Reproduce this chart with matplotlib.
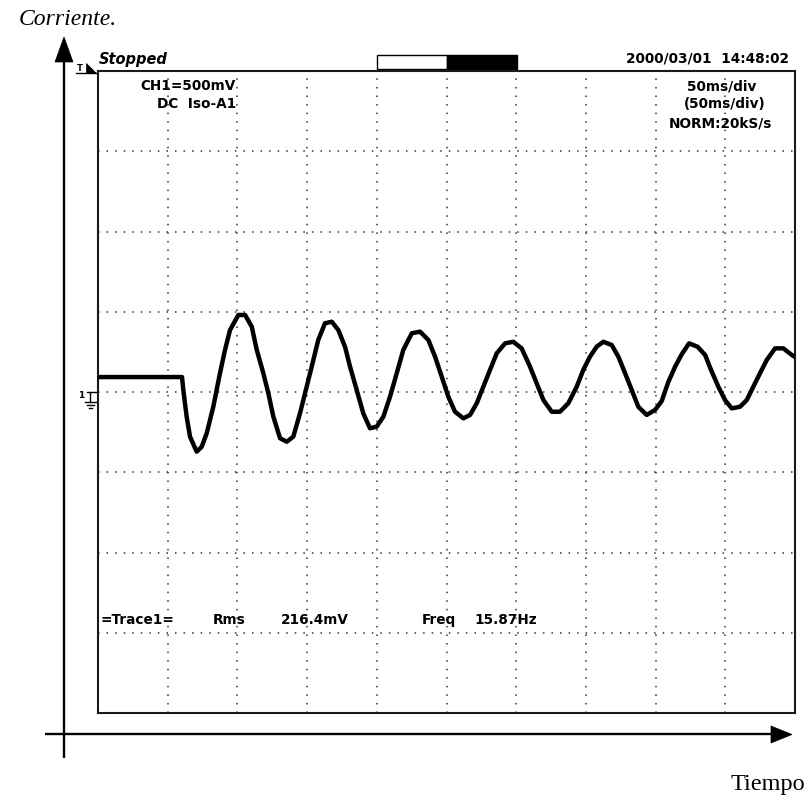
import matplotlib
matplotlib.use("Agg")
import matplotlib.pyplot as plt
from matplotlib.patches import Rectangle, Polygon

# ---------------- data ----------------
time_ms = [0, 60.3, 61.2, 63.6, 66.0, 70.8, 74.4, 78.0, 82.7, 87.5, 91.1, 94.7,
           100.7, 105.5, 110.3, 113.9, 118.6, 122.2, 125.8, 130.6, 135.4, 140.1,
           144.9, 149.7, 153.3, 158.0, 162.8, 167.7, 172.4, 177.2, 180.8, 185.6,
           190.3, 195.1, 199.9, 204.7, 209.5, 214.3, 219.0, 225.1, 231.0, 237.0,
           241.8, 246.6, 251.3, 256.1, 262.1, 266.9, 271.7, 276.4, 281.2, 286.0,
           292.0, 297.9, 303.9, 309.9, 314.7, 319.5, 325.5, 331.4, 337.4, 343.4,
           348.1, 352.9, 357.7, 362.5, 368.5, 373.3, 378.1, 382.9, 387.6, 393.6,
           399.6, 404.4, 409.2, 414.0, 418.8, 424.0, 430.1, 435.5, 439.8, 445.0,
           449.8, 454.6, 460.6, 465.4, 470.1, 474.9, 479.7, 485.7, 491.6, 497.7,
           500]
voltage_mv = [93, 93, 12, -154, -278, -372, -341, -257, -92, 117, 262, 386,
              480, 480, 407, 262, 117, -8, -154, -288, -310, -278,
              -133, 33, 158, 324, 428, 438, 386, 282, 158, 12,
              -133, -226, -216, -154, -29, 117, 262, 366, 376, 324,
              220, 95, -29, -123, -164, -143, -70, 33, 137, 241,
              303, 313, 272, 158, 54, -50, -123, -123, -70, 33,
              137, 220, 282, 313, 293, 220, 117, 12, -92, -143,
              -112, -56, 64, 158, 236, 303, 282, 231, 137, 33,
              -50, -102, -92, -50, 33, 117, 199, 272, 272, 231,
              218]

time_per_div = 50      # ms
volt_per_div = 500     # mV
n_xdiv = 10
n_ydiv = 8

header_left = ["CH1=500mV", "DC  Iso-A1"]
header_right = ["50ms/div", "(50ms/div)", "NORM:20kS/s"]
timestamp = "2000/03/01  14:48:02"
status = "Stopped"
measure_items = ["=Trace1=", "Rms", "216.4mV", "Freq", "15.87Hz"]
y_label = "Corriente."
x_label = "Tiempo"

# ---------------- figure ----------------
W, H = 807, 797
fig = plt.figure(figsize=(W / 100, H / 100), dpi=100)
fig.patch.set_facecolor("white")

# background axes in pixel coordinates for decorations
bg = fig.add_axes([0, 0, 1, 1])
bg.set_xlim(0, W)
bg.set_ylim(H, 0)
bg.axis("off")

# scope screen
L, R, T, B = 98, 795, 71, 713
ax = fig.add_axes([L / W, (H - B) / H, (R - L) / W, (B - T) / H])
ax.set_xlim(0, n_xdiv * time_per_div)
ax.set_ylim(-n_ydiv / 2 * volt_per_div, n_ydiv / 2 * volt_per_div)
ax.set_xticks([])
ax.set_yticks([])
for s in ax.spines.values():
    s.set_linewidth(1.5)
    s.set_color("#1a1a1a")
ax.patch.set_alpha(0)

dot_style = dict(color="#333333", lw=1.1, linestyle=(0, (1, 4.6)))
for i in range(1, n_xdiv):
    ax.axvline(i * time_per_div, **dot_style)
for j in range(1, n_ydiv):
    ax.axhline((j - n_ydiv / 2) * volt_per_div, **dot_style)

ax.plot(time_ms, voltage_mv, color="black", lw=3.2, solid_joinstyle="round",
        solid_capstyle="round", zorder=5)

# ---------------- scope texts ----------------
sfont = dict(family="DejaVu Sans", weight="bold", fontsize=9.8, color="black")
bg.text(236, 86, header_left[0], ha="right", va="center", **sfont)
bg.text(236, 104, header_left[1], ha="right", va="center", **sfont)
bg.text(722, 86, header_right[0], ha="center", va="center", **sfont)
bg.text(725, 104, header_right[1], ha="center", va="center", **sfont)
bg.text(720, 123, header_right[2], ha="center", va="center", **sfont)
bg.text(789, 58, timestamp, ha="right", va="center", **sfont)
bg.text(99, 59, status, ha="left", va="center", family="DejaVu Sans",
        weight="bold", style="italic", fontsize=10.5)

meas_x = [100, 213, 281, 422, 474]
for x, s in zip(meas_x, measure_items):
    bg.text(x, 620, s, ha="left", va="center", **sfont)

# progress bar
bg.add_patch(Rectangle((377, 55), 70, 14, facecolor="white", edgecolor="black", lw=1.0))
bg.add_patch(Rectangle((447, 55), 70, 14, facecolor="black", edgecolor="black", lw=1.0))

# trigger marker
bg.text(80, 68, "T", ha="center", va="center", family="DejaVu Sans",
        weight="bold", fontsize=6)
bg.plot([76, 97], [72.5, 72.5], color="black", lw=1.0)
bg.add_patch(Polygon([(86, 63), (86, 72.5), (96, 72.5)], closed=True,
                     facecolor="black", edgecolor="black", lw=0.5))

# ground marker
bg.text(81, 395, "1", ha="center", va="center", family="DejaVu Sans",
        weight="bold", fontsize=6.5)
bg.plot([87, 97], [392, 392], color="black", lw=1.0)
bg.plot([90, 90], [392, 402], color="black", lw=1.0)
bg.plot([84.5, 95.5], [402, 402], color="black", lw=1.0)
bg.plot([86.5, 93.5], [405, 405], color="black", lw=1.0)
bg.plot([88.5, 91.5], [408, 408], color="black", lw=1.0)

# ---------------- outer axes arrows ----------------
bg.plot([64, 64], [758, 60], color="black", lw=1.7, solid_capstyle="butt")
bg.add_patch(Polygon([(55, 62), (73, 62), (64, 37)], closed=True,
                     facecolor="black", edgecolor="black", lw=0.5))
bg.plot([45, 773], [734, 734], color="black", lw=1.7, solid_capstyle="butt")
bg.add_patch(Polygon([(771, 726), (771, 743), (792, 734.5)], closed=True,
                     facecolor="black", edgecolor="black", lw=0.5))

bg.text(117, 25, y_label, ha="right", va="baseline", family="Liberation Serif",
        style="italic", fontsize=17)
bg.text(805, 790, x_label, ha="right", va="baseline", family="Liberation Serif",
        fontsize=17.5)

fig.savefig("out.png", dpi=100, facecolor="white")
